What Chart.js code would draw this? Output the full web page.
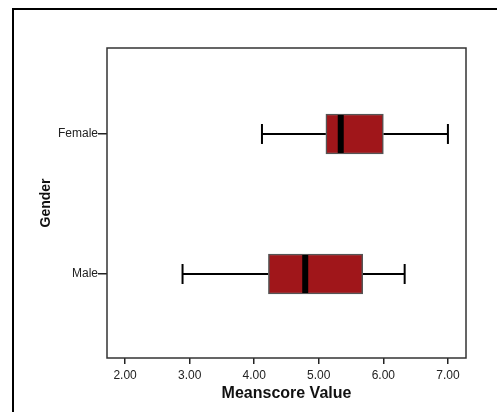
<!DOCTYPE html>
<html><head><meta charset="utf-8">
<script src="https://cdn.jsdelivr.net/npm/chart.js@4/dist/chart.umd.min.js"></script>
<style>html,body{margin:0;padding:0;background:#fff}#wrap{width:497px;height:412px;position:relative}</style>
</head><body><div id="wrap"><canvas id="c" width="497" height="412"></canvas></div>
<script>
const categories = ['Male', 'Female'];
const whiskerMin = [2.89, 4.12];
const q1 = [4.22, 5.11];
const median = [4.79, 5.34];
const q3 = [5.68, 6.00];
const whiskerMax = [6.33, 7.00];
const xTicks = [2, 3, 4, 5, 6, 7];

const FONT = "'Liberation Sans', Arial, sans-serif";
const BOX_RED = '#a0161a';

const frame = {
  id: 'frame',
  beforeDraw(chart) {
    const ctx = chart.ctx;
    ctx.save();
    ctx.fillStyle = '#fff';
    ctx.fillRect(0, 0, chart.width, chart.height);
    ctx.strokeStyle = '#000';
    ctx.lineWidth = 2;
    ctx.beginPath();
    ctx.moveTo(13, chart.height);
    ctx.lineTo(13, 9);
    ctx.lineTo(chart.width, 9);
    ctx.stroke();
    ctx.restore();
  },
  afterDatasetsDraw(chart) {
    const a = chart.chartArea, ctx = chart.ctx;
    ctx.save();
    ctx.strokeStyle = '#333';
    ctx.lineWidth = 1.5;
    ctx.strokeRect(a.left, a.top, a.right - a.left, a.bottom - a.top);
    ctx.restore();
  }
};

const lineDs = (pts) => ({
  type: 'scatter', data: pts, showLine: true, borderColor: '#000', borderWidth: 2,
  pointRadius: 0, pointHoverRadius: 0, order: 3
});

const datasets = [];
categories.forEach((c, i) => {
  datasets.push(lineDs([{x: whiskerMin[i], y: i}, {x: q1[i], y: i}]));
  datasets.push(lineDs([{x: q3[i], y: i}, {x: whiskerMax[i], y: i}]));
});
datasets.push({
  type: 'scatter',
  data: categories.flatMap((c, i) => [{x: whiskerMin[i], y: i}, {x: whiskerMax[i], y: i}]),
  pointStyle: 'line', rotation: 90, pointRadius: 10, pointBorderWidth: 2,
  borderColor: '#000', backgroundColor: '#000', order: 3
});
datasets.push({
  type: 'bar', indexAxis: 'y', grouped: false,
  data: categories.map((c, i) => ({x: [q1[i], q3[i]], y: i})),
  backgroundColor: BOX_RED, borderColor: '#555', borderWidth: 1.5, borderSkipped: false,
  barThickness: 40, order: 2
});
datasets.push({
  type: 'scatter',
  data: categories.map((c, i) => ({x: median[i], y: i})),
  pointStyle: 'line', rotation: 90, pointRadius: 19, pointBorderWidth: 6,
  borderColor: '#000', backgroundColor: '#000', order: 1
});

new Chart(document.getElementById('c'), {
  type: 'bar',
  data: { datasets },
  plugins: [frame],
  options: {
    responsive: false, animation: false,
    layout: { padding: { top: 48, right: 31, left: 0, bottom: 0 } },
    plugins: { legend: { display: false }, tooltip: { enabled: false } },
    scales: {
      x: {
        type: 'linear', position: 'bottom', min: 1.72, max: 7.28, offset: false,
        afterBuildTicks: s => { s.ticks = xTicks.map(v => ({ value: v })); },
        afterFit: s => { s.height = 54; },
        ticks: { callback: v => Number(v).toFixed(2), font: { family: FONT, size: 12 }, color: '#222', padding: 4, maxRotation: 0 },
        grid: { offset: false, drawOnChartArea: false, drawTicks: true, tickLength: 6, color: '#222', lineWidth: 1.5 },
        border: { display: false },
        title: { display: true, text: 'Meanscore Value', color: '#111', font: { family: FONT, size: 16, weight: 'bold' }, padding: { top: 0, bottom: 9 } }
      },
      y: {
        type: 'linear', position: 'left', min: -0.6, max: 1.614, offset: false,
        afterBuildTicks: s => { s.ticks = [{ value: 0 }, { value: 1 }]; },
        afterFit: s => { s.width = 107; },
        ticks: { callback: v => categories[v], font: { family: FONT, size: 12 }, color: '#222', padding: 0 },
        grid: { offset: false, drawOnChartArea: false, drawTicks: true, tickLength: 9, color: '#222', lineWidth: 1.5 },
        border: { display: false },
        title: { display: true, text: 'Gender', color: '#111', font: { family: FONT, size: 14, weight: 'bold' }, padding: { top: 37.6, bottom: 0 } }
      }
    }
  }
});
</script></body></html>
